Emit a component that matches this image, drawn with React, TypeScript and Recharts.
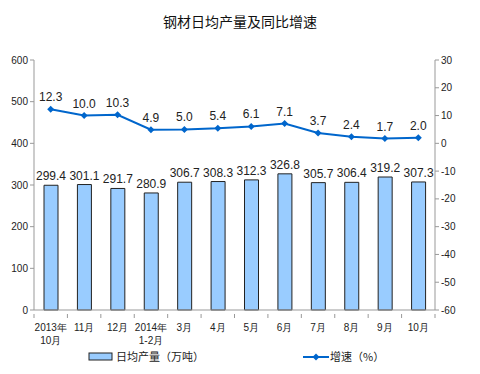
import React from 'react';
import { ComposedChart, Bar, Line, XAxis, YAxis, LabelList } from 'recharts';

const months = ['2013年|10月', '11月', '12月', '2014年|1-2月', '3月', '4月', '5月', '6月', '7月', '8月', '9月', '10月'];
const output = [299.4, 301.1, 291.7, 280.9, 306.7, 308.3, 312.3, 326.8, 305.7, 306.4, 319.2, 307.3];
const growth = [12.3, 10.0, 10.3, 4.9, 5.0, 5.4, 6.1, 7.1, 3.7, 2.4, 1.7, 2.0];
const leftTicks = [0, 100, 200, 300, 400, 500, 600];
const rightTicks = [-60, -50, -40, -30, -20, -10, 0, 10, 20, 30];

const data = months.map((m, i) => ({ month: m, output: output[i], growth: growth[i] }));

const FONT = '"Liberation Sans", Arial, sans-serif';
const BAR_FILL = '#99ccff';
const LINE_COLOR = '#0066cc';
const HALF_BAND = 401 / months.length / 2;

function MonthTick({ x, y, payload, index }: any) {
  const parts = String(payload.value).split('|');
  const half = payload.offset || HALF_BAND;
  return (
    <g transform={`translate(${x},${y})`}>
      <line x1={-half} y1={-4} x2={-half} y2={0} stroke="#999" />
      {index === months.length - 1 && <line x1={half} y1={-4} x2={half} y2={0} stroke="#999" />}
      {parts.map((p, i) => (
        <text key={i} x={0} y={13 + i * 13} textAnchor="middle" fontSize={10} fill="#222" fontFamily={FONT}>
          {p}
        </text>
      ))}
    </g>
  );
}

function Diamond({ cx, cy }: any) {
  if (cx == null || cy == null) return null;
  return <path d={`M${cx},${cy - 3.5}L${cx + 3.5},${cy}L${cx},${cy + 3.5}L${cx - 3.5},${cy}Z`} fill={LINE_COLOR} />;
}

export default function App() {
  return (
    <div style={{ margin: -8, width: 480, height: 374, background: '#fff', position: 'relative' }}>
      <ComposedChart width={480} height={374} data={data} margin={{ top: 60, right: 10, bottom: 24, left: 4 }}>
        <text x={240} y={27} textAnchor="middle" fontSize={14} fill="#111" fontFamily='"Noto Sans CJK SC", sans-serif'>
          钢材日均产量及同比增速
        </text>
        <XAxis
          dataKey="month"
          tick={<MonthTick />}
          tickLine={false}
          axisLine={{ stroke: '#999' }}
          interval={0}
          height={40}
        />
        <YAxis
          yAxisId="left"
          domain={[0, 600]}
          ticks={leftTicks}
          width={30}
          axisLine={{ stroke: '#999' }}
          tickLine={{ stroke: '#999' }}
          tickSize={4}
          tick={{ fontSize: 10, fill: '#222', fontFamily: FONT }}
        />
        <YAxis
          yAxisId="right"
          orientation="right"
          domain={[-60, 30]}
          ticks={rightTicks}
          width={35}
          axisLine={{ stroke: '#999' }}
          tickLine={{ stroke: '#999' }}
          tickSize={4}
          tick={{ fontSize: 10, fill: '#222', fontFamily: FONT }}
        />
        <Bar
          yAxisId="left"
          dataKey="output"
          fill={BAR_FILL}
          stroke="#222"
          strokeWidth={1}
          barSize={14}
          isAnimationActive={false}
        >
          <LabelList dataKey="output" position="top" fontSize={12} fill="#222" fontFamily={FONT} formatter={(v: any) => Number(v).toFixed(1)} />
        </Bar>
        <Line
          yAxisId="right"
          dataKey="growth"
          stroke={LINE_COLOR}
          strokeWidth={2}
          dot={<Diamond />}
          activeDot={false}
          isAnimationActive={false}
        >
          <LabelList dataKey="growth" position="top" offset={8} fontSize={12} fill="#222" fontFamily={FONT} formatter={(v: any) => Number(v).toFixed(1)} />
        </Line>
        <g fontFamily='"Noto Sans CJK SC", sans-serif' fontSize={11} fill="#222">
          <rect x={89} y={353} width={23} height={7} fill={BAR_FILL} stroke="#222" />
          <text x={116} y={361}>日均产量（万吨）</text>
          <line x1={303} y1={357} x2={329} y2={357} stroke={LINE_COLOR} strokeWidth={2} />
          <path d="M316,353.5L319.5,357L316,360.5L312.5,357Z" fill={LINE_COLOR} />
          <text x={330} y={361}>增速（%）</text>
        </g>
      </ComposedChart>
    </div>
  );
}
